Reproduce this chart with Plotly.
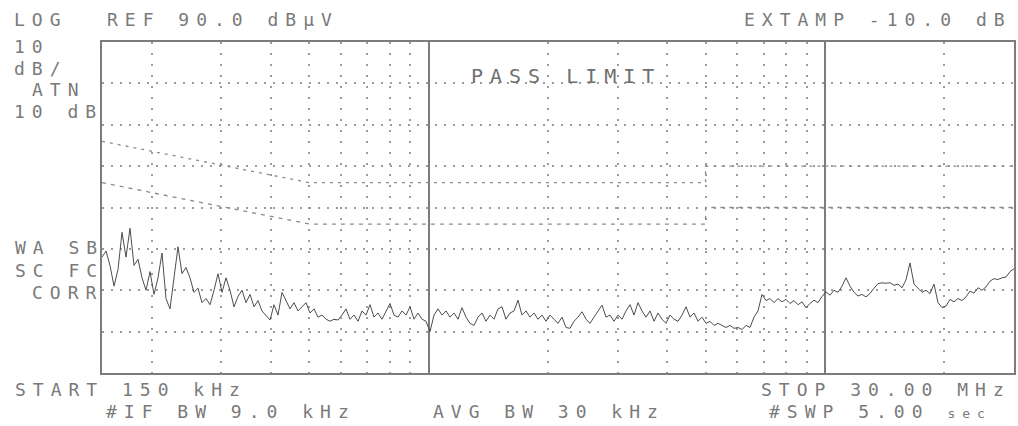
import numpy as np
import plotly.graph_objects as go

# ---------------- data ----------------
start_mhz = 0.15
stop_mhz = 30.0

trace_dbuv = [
    38, 39.5, 36, 31, 35, 44, 38, 45, 36, 37.5,
    33, 30, 34.5, 29, 33, 39, 28, 25.5, 33, 40.5,
    34, 35.5, 33, 29.5, 30.5, 27, 28, 26.5, 30, 34,
    29.5, 33, 30, 26, 28.5, 30, 27, 29, 26, 27.5,
    25, 24, 22.8, 26.5, 24, 29.5, 27.5, 25.5, 27, 25,
    26, 27, 24.5, 25.5, 23.5, 24, 23, 22.5, 23, 22.8,
    24, 25.5, 23, 24, 22.5, 25, 24, 26.5, 23.5, 24.5,
    23, 25, 26.8, 24, 23.5, 25, 24, 26, 23, 24.5,
    23, 22.5, 20, 24, 25.5, 24, 25, 23.5, 24.5, 23,
    25.8, 23.5, 22, 21.5, 23.5, 24.5, 22.5, 24, 23, 25.5,
    26, 23, 24.5, 25, 27.6, 24, 25, 23.5, 24.5, 23,
    24, 22.5, 24, 23, 22, 23.5, 21, 20.8, 22.5, 23.5,
    24.8, 23, 22, 23.5, 25, 26.4, 23.5, 24, 22.5, 24,
    23, 25, 26.5, 24, 27, 25, 23.5, 25, 22.5, 24.5,
    23, 22, 24, 23, 22.5, 24, 26, 23.5, 24.5, 22.5,
    23.5, 22, 22.5, 21.5, 22, 21.5, 21, 21.5, 20.8, 21,
    20.5, 21.5, 21, 23.5, 25, 29, 27.5, 28, 27, 28,
    27.2, 27.8, 26.8, 27.5, 26.5, 27.2, 25.8, 26.8, 27.6, 27,
    28.5, 29.6, 28.8, 30, 29.5, 31, 33, 31, 29.5, 28.6,
    29, 28.4, 29.2, 30.5, 31.6, 31.8, 31.7, 31.8, 31.2, 31.5,
    30.6, 32.5, 36.6, 31.5, 30.5, 29.5, 30, 29.2, 31.5, 27,
    25.8, 26.2, 27.8, 27.2, 28, 27.5, 28.4, 29.8, 29.3, 30.6,
    30, 30.8, 32.2, 32.8, 32.6, 33, 33.2, 34.5, 35.2,
]

# limit lines (CISPR 22 class B style): quasi-peak and average
limit_freq_mhz = [0.15, 0.5, 5, 5, 30]
limit_qp = [66, 56, 56, 60, 60]
limit_avg = [56, 46, 46, 50, 50]

# graticule
ref_level = 90.0
db_per_div = 10.0
n_divs = 8
minor_freqs = [0.2, 0.3, 0.4, 0.5, 0.6, 0.7, 0.8, 0.9,
               2, 3, 4, 5, 6, 7, 8, 9, 20]
decade_freqs = [1, 10]

labels = [
    ("LOG", 12, 19),
    ("REF 90.0 dBµV", 105, 19),
    ("EXTAMP -10.0 dB", 743, 19),
    ("10", 12, 46.5),
    ("dB/", 12, 68),
    ("ATN", 30, 89.5),
    ("10 dB", 12, 111),
    ("WA SB", 13, 247),
    ("SC FC", 13, 270),
    ("CORR", 30, 292.5),
    ("START 150 kHz", 13, 389),
    ("STOP 30.00 MHz", 760, 389),
    ("#IF BW 9.0 kHz", 104, 411),
    ("AVG BW 30 kHz", 432, 411),
    ("#SWP 5.00 <span style='font-size:13px'>sec</span>", 768, 411),
]
banner = ("PASS LIMIT", 470, 76)

# ---------------- figure ----------------
freqs = np.geomspace(start_mhz, stop_mhz, len(trace_dbuv))

W, H = 1018, 426
L, R, T, B = 102, 2, 42, 53
pw, ph = W - L - R, H - T - B

def px(x):
    return (x - L) / pw

def py(y):
    return (H - B - y) / ph

TEXT = "#7a7a7a"
GRID = "#9c9c9c"
FRAME = "#7c7c7c"
MONO = "DejaVu Sans Mono"

fig = go.Figure()
fig.add_trace(go.Scatter(x=limit_freq_mhz, y=limit_qp, mode="lines",
                         line=dict(color="#8a8a8a", width=1.3, dash="3px,5px"),
                         hoverinfo="skip"))
fig.add_trace(go.Scatter(x=limit_freq_mhz, y=limit_avg, mode="lines",
                         line=dict(color="#8a8a8a", width=1.3, dash="4px,5px"),
                         hoverinfo="skip"))
fig.add_trace(go.Scatter(x=freqs, y=trace_dbuv, mode="lines",
                         line=dict(color="#4d4d4d", width=1)))

bottom = ref_level - n_divs * db_per_div
fig.update_xaxes(
    type="log",
    range=[np.log10(start_mhz), np.log10(stop_mhz)],
    tickmode="array", tickvals=minor_freqs, showticklabels=False, ticks="",
    showgrid=True, gridcolor=GRID, gridwidth=1.6, griddash="2px,9px",
    minor=dict(tickmode="array", tickvals=decade_freqs, showgrid=True,
               gridcolor=FRAME, gridwidth=1.5, griddash="solid", ticks=""),
    showline=True, mirror=True, linecolor=FRAME, linewidth=1.5,
    zeroline=False,
)
fig.update_yaxes(
    range=[bottom, ref_level], tick0=bottom, dtick=db_per_div,
    showticklabels=False, ticks="",
    showgrid=True, gridcolor=GRID, gridwidth=1.6, griddash="2px,7px",
    showline=True, mirror=True, linecolor=FRAME, linewidth=1.5,
    zeroline=False,
)

annotations = []
for text, x, y in labels:
    annotations.append(dict(text=text, x=px(x), y=py(y), xref="paper", yref="paper",
                            xanchor="left", yanchor="middle", align="left",
                            showarrow=False,
                            font=dict(family=MONO, size=18, color=TEXT)))
annotations.append(dict(text=banner[0], x=px(banner[1]), y=py(banner[2]),
                        xref="paper", yref="paper", xanchor="left", yanchor="middle",
                        align="left", showarrow=False,
                        font=dict(family=MONO, size=20, color="#6f6f6f")))

fig.update_layout(
    width=W, height=H, autosize=False,
    margin=dict(l=L, r=R, t=T, b=B, pad=0),
    paper_bgcolor="white", plot_bgcolor="white",
    showlegend=False, annotations=annotations,
)

post = """
document.body.style.margin = '0';
document.body.style.padding = '0';
var s = document.createElement('style');
s.textContent = '.annotation-text { letter-spacing: 7px; }';
document.head.appendChild(s);
"""
fig.write_html("out.html", post_script=post, config={"displayModeBar": False})
